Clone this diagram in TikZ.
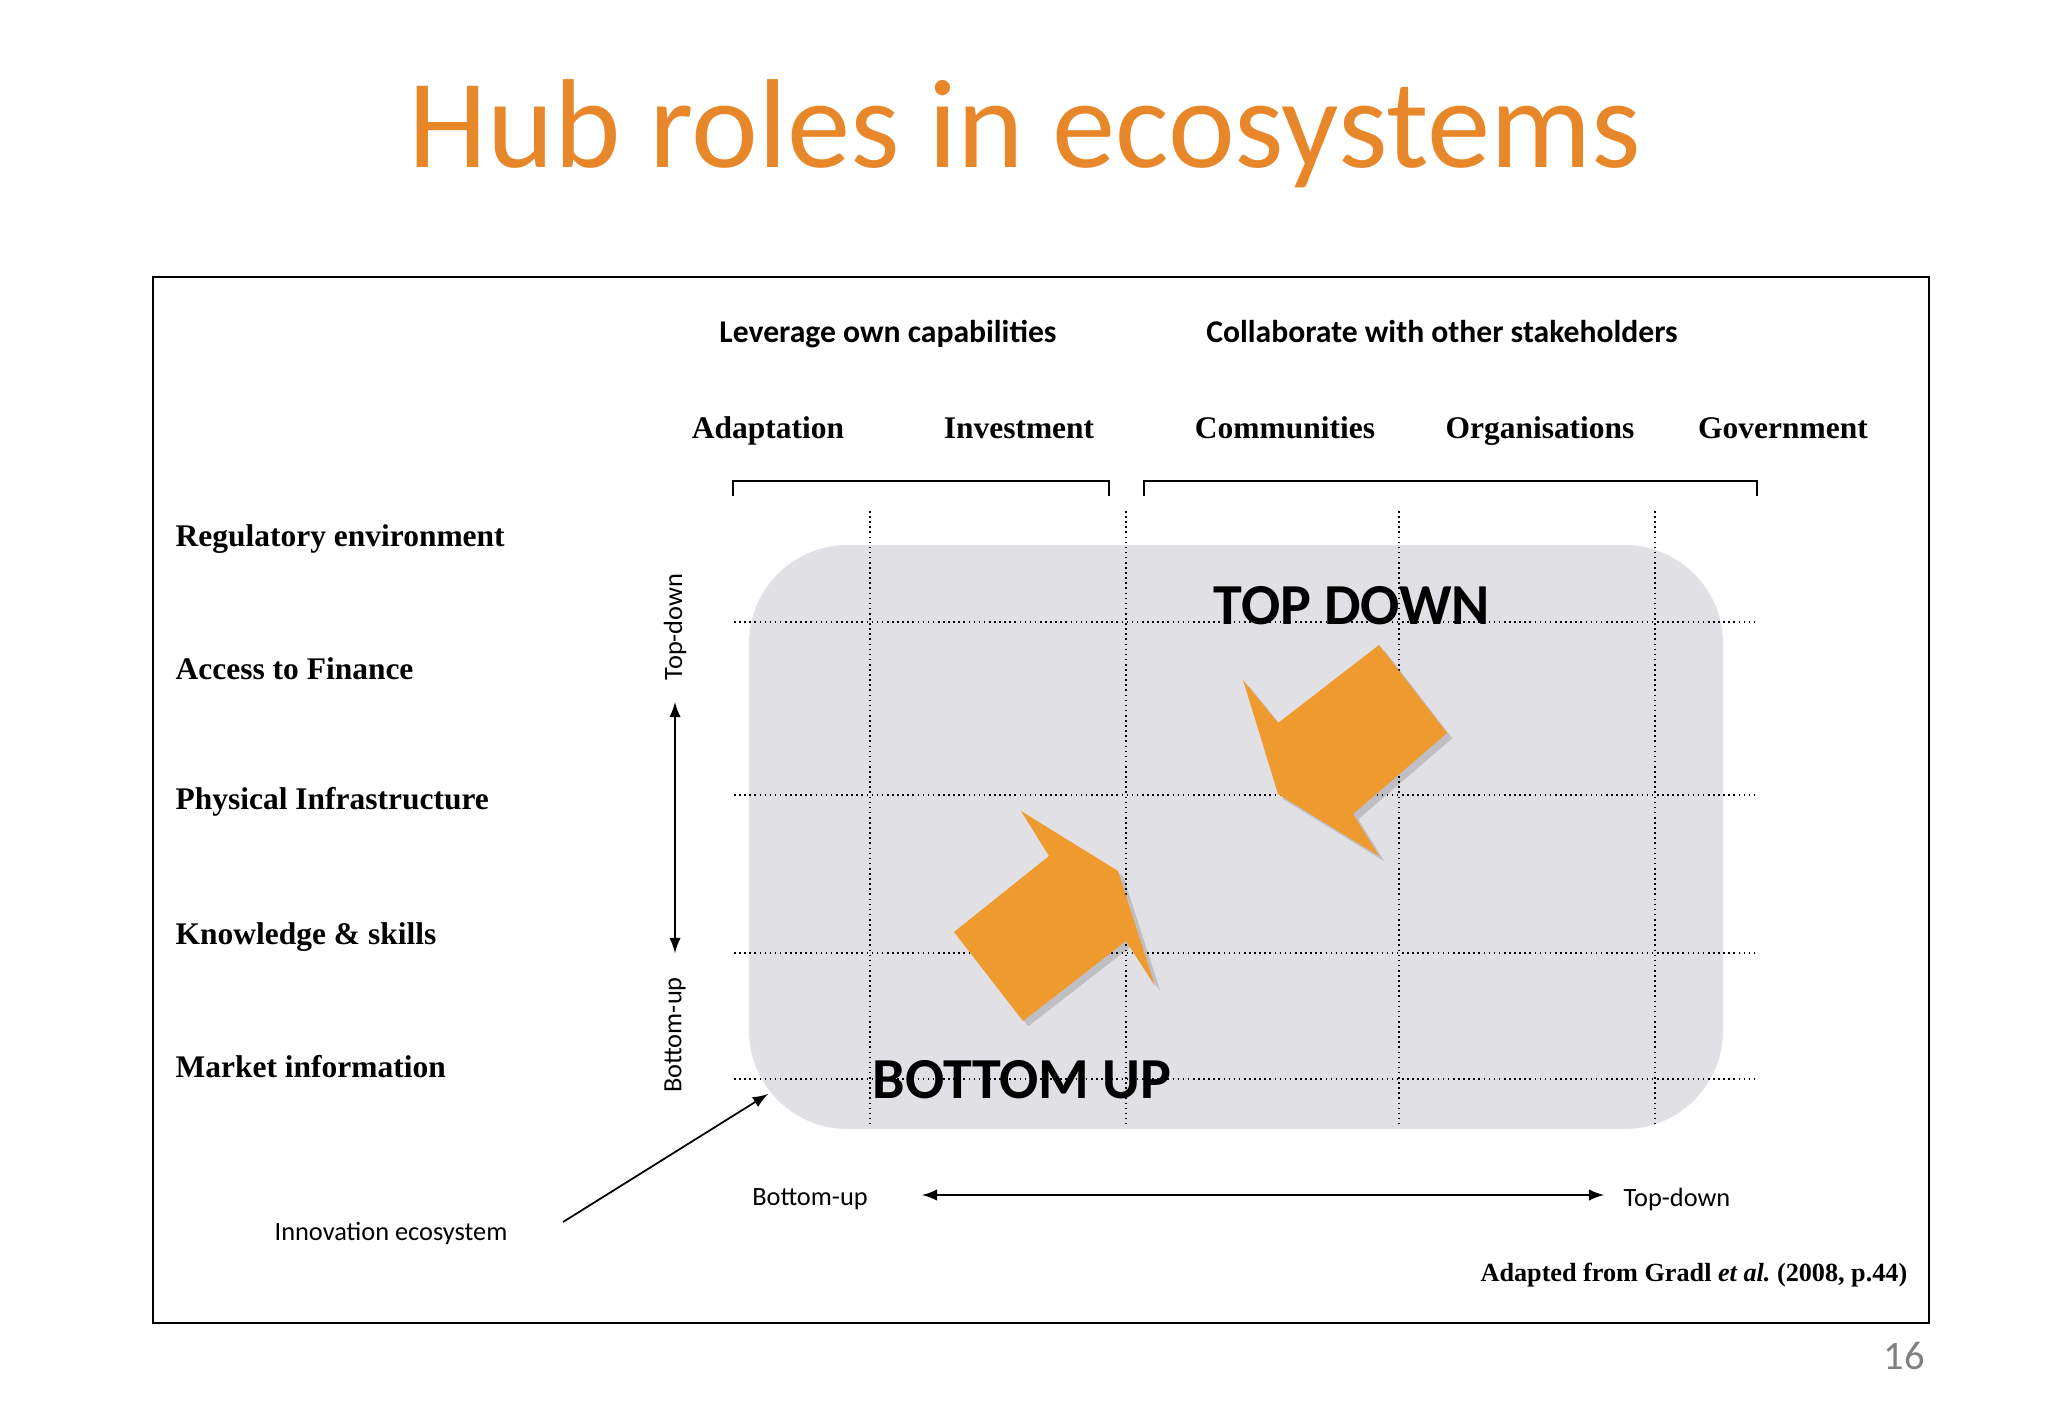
\documentclass[tikz,border=0pt]{standalone}
\usepackage{fontspec}
\setmainfont{Carlito}
\newfontfamily\timesfont{Liberation Serif}
\usetikzlibrary{shadows}
\definecolor{hubgray}{RGB}{225,224,228}
\definecolor{huborange}{RGB}{238,154,46}
\definecolor{titleorange}{RGB}{232,135,42}

\begin{document}
\begin{tikzpicture}[x=0.01cm, y=-0.01cm,
	rowlabel/.style={anchor=base west, inner sep=0pt, font=\timesfont\bfseries\fontsize{8.95}{11}\selectfont},
	collabel/.style={anchor=base, inner sep=0pt, font=\timesfont\bfseries\fontsize{8.95}{11}\selectfont},
	grouplabel/.style={anchor=base, inner sep=0pt, font=\bfseries\fontsize{9}{11}\selectfont},
	axislabel/.style={inner sep=0pt, font=\fontsize{7.5}{9}\selectfont},
	dotline/.style={densely dotted, line width=0.45pt},
	bracket/.style={line width=0.8pt},
	axisarrow/.style={latex-latex, line width=0.5pt},
	bigarrow/.style={fill=huborange, drop shadow={shadow xshift=1.5pt, shadow yshift=-1.5pt, opacity=0.15, fill=black}},
	direction/.style={inner sep=0pt, font=\bfseries\fontsize{16.5}{18}\selectfont}]
	\useasboundingbox (0,0) rectangle (2048,1418);
	\node[anchor=base, text=titleorange, font=\fontsize{36}{40}\selectfont] (title) at (1025,167) {Hub roles in ecosystems};
	\node[text=gray, font=\fontsize{11.5}{13}\selectfont] (page) at (1904,1356) {16};
	\draw[line width=0.8pt] (153,277) rectangle (1929,1323);
%%%%
	\fill[hubgray, rounded corners=28pt] (749,545) rectangle (1723,1129);
	\foreach \x in {870,1126,1399,1655}
		\draw[dotline] (\x,511) -- (\x,1125);
	\foreach \y in {622,795,953,1079}
		\draw[dotline] (734,\y) -- (1755,\y);
%%%%
	\node[grouplabel] (lev) at (888,342) {Leverage own capabilities};
	\node[grouplabel] (col) at (1442,342) {Collaborate with other stakeholders};
	\node[collabel] (adapt) at (768,438) {Adaptation};
	\node[collabel] (invest) at (1019,438) {Investment};
	\node[collabel] (commun) at (1285,438) {Communities};
	\node[collabel] (organ) at (1540,438) {Organisations};
	\node[collabel] (govern) at (1783,438) {Government};
	\draw[bracket] (733,496) -- (733,481) -- (1109,481) -- (1109,496);
	\draw[bracket] (1144,496) -- (1144,481) -- (1757,481) -- (1757,496);
%%%%
	\node[rowlabel] (reg) at (175,546) {Regulatory environment};
	\node[rowlabel] (fin) at (175,679) {Access to Finance};
	\node[rowlabel] (infra) at (175,809) {Physical Infrastructure};
	\node[rowlabel] (know) at (175,944) {Knowledge \& skills};
	\node[rowlabel] (market) at (175,1077) {Market information};
%%%%
	\node[axislabel, rotate=90] (vtd) at (675,627) {Top-down};
	\node[axislabel, rotate=90] (vbu) at (675,1035) {Bottom-up};
	\coordinate (vtop) at (675,702);
	\coordinate (vbot) at (675,953);
	\draw[axisarrow] (vtop) -- (vbot);
	\node[axislabel] (hbu) at (810,1199) {Bottom-up};
	\node[axislabel] (htd) at (1677,1199) {Top-down};
	\coordinate (hleft) at (922,1195);
	\coordinate (hright) at (1604,1195);
	\draw[axisarrow] (hleft) -- (hright);
	\node[axislabel] (innov) at (391,1233) {Innovation ecosystem};
	\coordinate (innovtail) at (563,1222);
	\coordinate (hubcorner) at (768,1094);
	\draw[-latex, line width=0.5pt] (innovtail) -- (hubcorner);
%%%%
	\path[bigarrow] (1243,680) -- (1278,723) -- (1379,645) -- (1447,733) -- (1353,814) -- (1379,856) -- (1278,794) -- cycle;
	\path[bigarrow] (1021,811) -- (1118,871) -- (1155,986) -- (1126,941) -- (1023,1021) -- (954,932) -- (1049,856) -- cycle;
	\node[direction] (topdown) at (1352,606) {TOP DOWN};
	\node[direction] (bottomup) at (1022,1080) {BOTTOM UP};
	\node[anchor=east, inner sep=0pt, font=\timesfont\bfseries\fontsize{7.45}{9}\selectfont] (source) at (1908,1275) {Adapted from Gradl \textit{et al.}\ (2008, p.44)};
\end{tikzpicture}
\end{document}
